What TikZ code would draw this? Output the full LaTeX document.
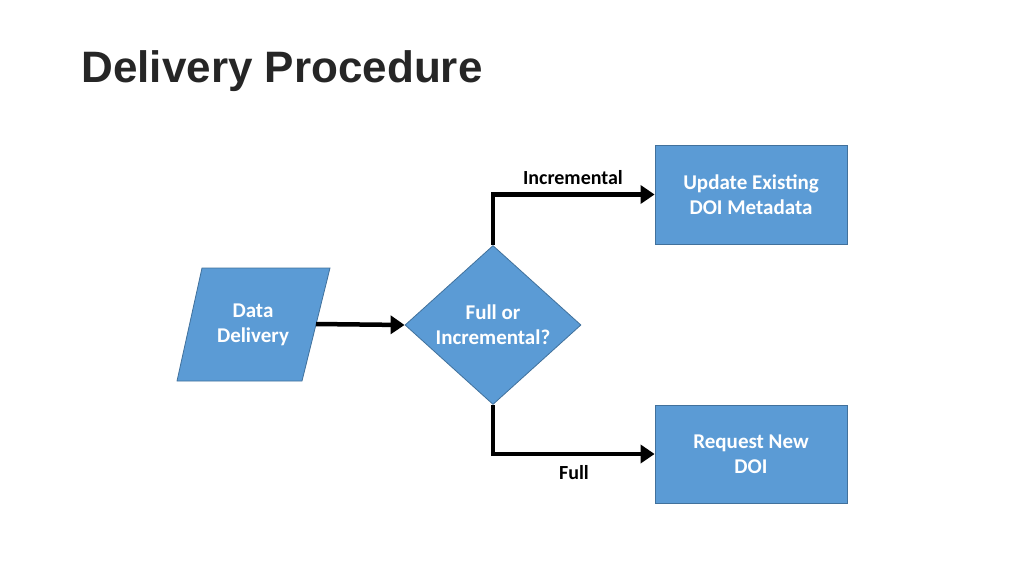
\documentclass[tikz,border=0pt]{standalone}
\usepackage{fontspec}
\setmainfont{Carlito}
\newfontfamily\titlefont{Liberation Sans}
\usetikzlibrary{shapes.geometric,arrows.meta}
\definecolor{boxfill}{HTML}{5B9BD5}
\definecolor{boxline}{HTML}{41719C}
\begin{document}
\begin{tikzpicture}[x=1pt,y=-1pt,
  blk/.style={fill=boxfill,draw=boxline,line width=0.8pt,text=white,font=\fontsize{21}{25}\selectfont\bfseries,align=center,inner sep=0pt},
  conn/.style={line width=4.5pt,-{Triangle[length=14pt,width=18pt]}}]
\useasboundingbox (0,0) rectangle (1024,576);
\node[anchor=base west,font=\titlefont\fontsize{44}{50}\selectfont\bfseries,text=black!85] (title) at (78,82) {Delivery Procedure};
\fill[boxfill,draw=boxline,line width=0.8pt] (202,268) -- (330,268) -- (302,381) -- (177,381) -- cycle;
\node[text=white,font=\fontsize{21}{25}\selectfont\bfseries,align=center] (dd) at (253,325) {Data\\Delivery};
\coordinate (ddr) at (316,324);
\node[blk,diamond,minimum width=176pt,minimum height=159pt] (dec) at (493,325) {Full or\\Incremental?};
\node[blk,minimum width=192pt,minimum height=99pt] (upd) at (751,194.5) {Update Existing\\DOI Metadata};
\node[blk,minimum width=192pt,minimum height=98pt] (req) at (751,454) {Request New\\DOI};
\draw[conn] (ddr) -- (dec.west);
\draw[conn] (dec.north) |- (upd.west);
\draw[conn] (dec.south) |- (req.west);
\node[font=\fontsize{20}{24}\selectfont\bfseries] (li) at (573,178) {Incremental};
\node[font=\fontsize{20}{24}\selectfont\bfseries] (lf) at (574,473) {Full};
\end{tikzpicture}
\end{document}
